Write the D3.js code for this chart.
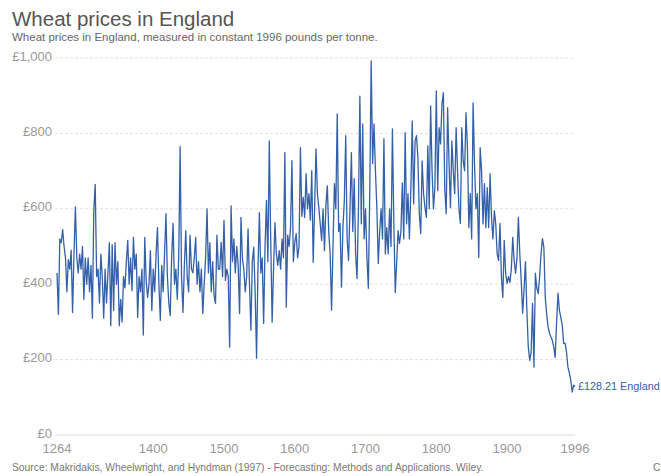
<!DOCTYPE html>
<html>
<head>
<meta charset="utf-8">
<script src="https://cdn.jsdelivr.net/npm/d3@7/dist/d3.min.js"></script>
<style>
    body { margin: 0; background: #fff; }
    text { font-family: "Liberation Sans", Arial, sans-serif; }
</style>
</head>
<body>
<svg id="chart" width="661" height="476"></svg>
<script>
// even years 1264..1996, price in constant 1996 pounds per tonne
let firstYear = 1264;
let prices = [
    430, 320, 520, 510, 545,   500, 470, 380, 465, 440,
    490, 325, 480, 605, 470,   430, 480, 440, 500, 360,
    470, 400, 470, 380, 450,   310, 595, 665, 420, 440,
    350, 480, 420, 310, 440,   350, 430, 510, 290, 505,
    330, 510, 400, 460, 290,   360, 300, 420, 390, 460,
    516, 400, 470, 383, 524,   440, 480, 312, 420, 380,
    440, 265, 524, 410, 365,   400, 489, 330, 440, 380,
    480, 550, 400, 304, 450,   380, 480, 587, 420, 350,
    317, 470, 561, 400, 440,   360, 470, 765, 420, 325,
    450, 542, 420, 380, 530,   440, 430, 470, 524, 400,
    460, 380, 440, 322, 400,   470, 600, 430, 510, 380,
    460, 370, 349, 530, 440,   440, 511, 420, 569, 410,
    440, 420, 233, 608, 460,   520, 430, 500, 450, 322,
    577, 470, 440, 380, 420,   547, 400, 278, 460, 498,
    380, 204, 440, 590, 430,   470, 296, 500, 622, 460,
    780, 520, 299, 440, 563,   480, 450, 489, 440, 520,
    470, 749, 339, 530, 500,   550, 728, 460, 510, 534,
    470, 500, 762, 580, 630,   577, 693, 600, 640, 570,
    701, 458, 600, 759, 640,   603, 560, 516, 600, 489,
    610, 661, 540, 480, 331,   500, 667, 600, 852, 540,
    561, 392, 550, 620, 794,   520, 463, 600, 749, 540,
    680, 480, 415, 600, 899,   560, 825, 520, 600, 470,
    389, 650, 992, 720, 825,   700, 603, 455, 540, 600,
    520, 786, 480, 550, 481,   600, 500, 812, 560, 378,
    460, 542, 508, 540, 669,   520, 802, 560, 640, 520,
    648, 833, 613, 780, 794,   735, 587, 534, 727, 640,
    603, 577, 767, 600, 873,   700, 600, 656, 913, 648,
    815, 772, 878, 908, 650,   587, 868, 720, 603, 780,
    700, 640, 815, 701, 600,   561, 815, 727, 701, 855,
    760, 550, 640, 520, 881,   720, 600, 640, 471, 762,
    700, 560, 667, 550, 656,   550, 693, 577, 520, 595,
    560, 480, 463, 561, 420,   365, 516, 429, 402, 420,
    405, 440, 524, 463, 429,   470, 577, 480, 410, 323,
    385, 460, 330, 233, 198,   220, 349, 180, 429, 390,
    375, 420, 480, 521, 498,   365, 320, 286, 270, 260,
    251, 233, 206, 300, 376,   330, 312, 290, 243, 243,
    220, 180, 165, 146, 114,   132, 128.21
];
let yTicks = [0, 200, 400, 600, 800, 1000];
let xTicks = [1264, 1400, 1500, 1600, 1700, 1800, 1900, 1996];
let entity = 'England';

let data = prices.map(function (p, i) {
    return {year: firstYear + i * 2, price: p};
});

let svg = d3.select('#chart');
let blue = '#3360a9';

let x = d3.scaleLinear().domain([1264, 1996]).range([57, 575]);
let y = d3.scaleLinear().domain([0, 1000]).range([435, 58]);
let money = d3.format(',');

svg.append('text')
    .attr('x', 12).attr('y', 26)
    .attr('font-size', 20.5).attr('fill', '#555')
    .text('Wheat prices in England');
svg.append('text')
    .attr('x', 12).attr('y', 41)
    .attr('font-size', 11.5).attr('fill', '#666')
    .text('Wheat prices in England, measured in constant 1996 pounds per tonne.');

let grid = svg.append('g');
grid.selectAll('line').data(yTicks).enter().append('line')
    .attr('x1', 55).attr('x2', 575)
    .attr('y1', d => y(d)).attr('y2', d => y(d))
    .attr('stroke', d => d === 0 ? '#ddd' : '#e2e2e2')
    .attr('stroke-dasharray', d => d === 0 ? null : '3,2');
grid.selectAll('text').data(yTicks).enter().append('text')
    .attr('x', 52).attr('y', d => y(d) - 2).attr('dy', '0.35em')
    .attr('text-anchor', 'end')
    .attr('font-size', 13).attr('fill', '#999')
    .text(d => '£' + money(d));

let xAxis = svg.append('g');
xAxis.selectAll('text').data(xTicks).enter().append('text')
    .attr('x', d => x(d)).attr('y', 453)
    .attr('text-anchor', 'middle')
    .attr('font-size', 13).attr('fill', '#999')
    .text(d => d);

let line = d3.line()
    .x(d => x(d.year))
    .y(d => y(d.price));

svg.append('path')
    .datum(data)
    .attr('d', line)
    .attr('fill', 'none')
    .attr('stroke', blue)
    .attr('stroke-width', 1.3)
    .attr('stroke-linejoin', 'round');

let last = data[data.length - 1];
svg.append('text')
    .attr('x', x(last.year) + 3).attr('y', y(last.price)).attr('dy', '0.35em')
    .attr('font-size', 10.8).attr('fill', blue)
    .text('£' + last.price.toFixed(2) + ' ' + entity);

svg.append('text')
    .attr('x', 12).attr('y', 471)
    .attr('font-size', 10.3).attr('fill', '#777')
    .text('Source: Makridakis, Wheelwright, and Hyndman (1997) - Forecasting: Methods and Applications. Wiley.');
svg.append('text')
    .attr('x', 653).attr('y', 471)
    .attr('font-size', 10.3).attr('fill', '#777')
    .text('CC BY');
</script>
</body>
</html>
